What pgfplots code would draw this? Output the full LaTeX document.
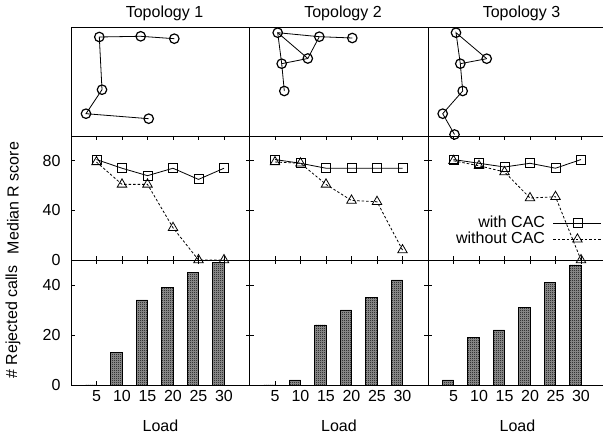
\documentclass[border=0pt]{standalone}
\usepackage{fontspec}
\setmainfont{Liberation Sans}
\usepackage{pgfplots}
\pgfplotsset{compat=1.18}
\usetikzlibrary{patterns}

% fine checkerboard like the gnuplot fill pattern
\pgfdeclarepatternformonly{checker}{\pgfqpoint{0pt}{0pt}}{\pgfqpoint{2pt}{2pt}}{\pgfqpoint{2pt}{2pt}}{%
  \pgfpathrectangle{\pgfqpoint{0pt}{0pt}}{\pgfqpoint{1pt}{1pt}}%
  \pgfpathrectangle{\pgfqpoint{1pt}{1pt}}{\pgfqpoint{1pt}{1pt}}%
  \pgfusepath{fill}}

\pgfplotsset{
  frame/.style={scale only axis, width=178.5pt, clip=false, anchor=south west,
    axis line style={line width=0.9pt}},
  topo/.style={frame, height=109pt, xmin=0, xmax=178.5, ymin=0, ymax=109,
    xtick=\empty, ytick=\empty},
  panel/.style={frame, xmin=0, xmax=35, xtick={5,10,15,20,25,30},
    tick align=inside, tick pos=both, major tick length=4pt,
    every tick/.style={black, line width=0.8pt},
    xticklabels={}, /pgf/number format/assume math mode=true,
    yticklabel style={xshift=-5pt}, xticklabel style={yshift=0pt}},
  mid/.style={panel, height=124pt, ymin=0, ymax=100, ytick={0,40,80}, yticklabels={0,40,80}},
  bot/.style={panel, height=125pt, ymin=0, ymax=50, ytick={0,20,40}, yticklabels={0,20,40}},
  noy/.style={yticklabels={}},
  botx/.style={xticklabels={5,10,15,20,25,30}},
  edge/.style={black, line width=0.8pt, no marks},
  node/.style={black, only marks, mark=o, mark size=4.75pt, mark options={line width=1.2pt}},
  cac/.style={black, line width=0.8pt, mark=square, mark size=4.5pt, mark options={solid}},
  nocac/.style={black, line width=0.8pt, dash pattern=on 2.5pt off 2pt, mark=triangle,
    mark size=5.5pt, mark options={solid}},
  rej/.style={ybar, bar width=2.2, bar shift=-1.1, draw=black, line width=0.6pt,
    fill=black!40, postaction={pattern=checker}},
}

\begin{document}
\fontsize{16}{19}\selectfont
\begin{tikzpicture}[x=1pt,y=1pt]
\useasboundingbox (0pt,0pt) rectangle (603pt,439pt);

% ---- topologies ----
\begin{axis}[topo, at={(71pt,303pt)}]
\addplot[edge] coordinates {(103.3,97.3) (69.7,99.7) (28.3,99) (31,46.3) (15,22.3) (77.7,17.3)};
\addplot[node] coordinates {(103.3,97.3) (69.7,99.7) (28.3,99) (31,46.3) (15,22.3) (77.7,17.3)};
\end{axis}
\begin{axis}[topo, at={(249.5pt,303pt)}]
\addplot[edge] coordinates {(102.8,98) (69.8,99.3) (28.2,103.3) (32.2,72.3) (34.8,45)};
\addplot[edge] coordinates {(28.2,103.3) (58.3,77.5) (69.8,99.3)};
\addplot[edge] coordinates {(32.2,72.3) (58.3,77.5)};
\addplot[node] coordinates {(102.8,98) (69.8,99.3) (28.2,103.3) (32.2,72.3) (34.8,45) (58.3,77.5)};
\end{axis}
\begin{axis}[topo, at={(428pt,303pt)}]
\addplot[edge] coordinates {(58.7,77.3) (28,103.3) (32.3,72.3) (34.7,45) (14.7,22.3) (26.5,1.5)};
\addplot[edge] coordinates {(32.3,72.3) (58.7,77.3)};
\addplot[node] coordinates {(58.7,77.3) (28,103.3) (32.3,72.3) (34.7,45) (14.7,22.3) (26.5,1.5)};
\end{axis}

% ---- median R score ----
\begin{axis}[mid, at={(71pt,179pt)}]
\addplot[cac] coordinates {(5,81) (10,74) (15,68) (20,74) (25,65) (30,74)};
\addplot[nocac] coordinates {(5,79) (10,61) (15,61) (20,26) (25,0) (30,0)};
\end{axis}
\begin{axis}[mid, noy, at={(249.5pt,179pt)}]
\addplot[cac] coordinates {(5,81) (10,78) (15,74) (20,74) (25,74) (30,74)};
\addplot[nocac] coordinates {(5,79) (10,78) (15,61) (20,48) (25,47) (30,8)};
\end{axis}
\begin{axis}[mid, noy, at={(428pt,179pt)},
  legend cell align=right, legend plot pos=right,
  legend style={draw=none, fill=none, at={(rel axis cs:0.975,0.37)}, anchor=north east,
    inner sep=0pt, row sep=-2pt, column sep=6pt},
  legend image code/.code={\draw[mark repeat=2,mark phase=2,#1] plot coordinates {(0pt,0pt) (24pt,0pt) (48pt,0pt)};}]
\addplot[cac] coordinates {(5,81) (10,78) (15,75) (20,78) (25,74) (30,81)};
\addplot[nocac] coordinates {(5,80) (10,76) (15,71) (20,50) (25,51) (30,0)};
\legend{with CAC, without CAC}
\end{axis}

% ---- rejected calls ----
\begin{axis}[bot, botx, at={(71pt,54pt)}]
\addplot[rej] coordinates {(5,0) (10,13) (15,34) (20,39) (25,45) (30,49)};
\end{axis}
\begin{axis}[bot, botx, noy, at={(249.5pt,54pt)}]
\addplot[rej] coordinates {(5,0) (10,2) (15,24) (20,30) (25,35) (30,42)};
\end{axis}
\begin{axis}[bot, botx, noy, at={(428pt,54pt)}]
\addplot[rej] coordinates {(5,2) (10,19) (15,22) (20,31) (25,41) (30,48)};
\end{axis}

% ---- titles and labels ----
\node at (164.5pt,425.7pt) {Topology 1};
\node at (343pt,425.7pt) {Topology 2};
\node at (521.5pt,425.7pt) {Topology 3};
\node[rotate=90] at (13pt,241pt) {Median R score};
\node[rotate=90] at (13pt,117pt) {\# Rejected calls};
\node at (160.5pt,13.3pt) {Load};
\node at (339pt,13.3pt) {Load};
\node at (517.5pt,13.3pt) {Load};
\end{tikzpicture}
\end{document}
